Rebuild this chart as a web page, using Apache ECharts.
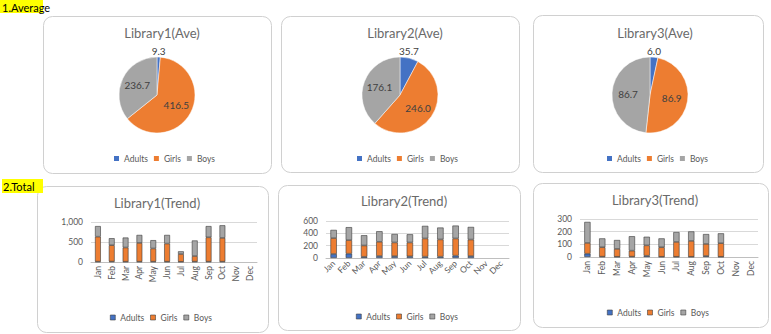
<!DOCTYPE html>
<html>
<head>
<meta charset="utf-8">
<script src="https://cdn.jsdelivr.net/npm/echarts@6/dist/echarts.min.js"></script>
<style>
  html, body { margin: 0; padding: 0; background: #fff; }
  #chart { width: 771px; height: 334px; }
</style>
</head>
<body>
<div id="chart"></div>
<script>
// Visitor counts per month for three libraries (Jan–Oct recorded).
const months = ['Jan', 'Feb', 'Mar', 'Apr', 'May', 'Jun', 'Jul', 'Aug', 'Sep', 'Oct', 'Nov', 'Dec'];
const groups = ['Adults', 'Girls', 'Boys'];

const lib1Adults = [10, 12, 8, 9, 10, 8, 6, 10, 10, 10];
const lib1Girls  = [623, 408, 354, 468, 328, 453, 193, 139, 607, 592];
const lib1Boys   = [265, 175, 249, 200, 208, 216, 68, 389, 281, 316];

const lib2Adults = [65, 70, 20, 32, 30, 27, 22, 22, 38, 31];
const lib2Girls  = [258, 220, 183, 231, 222, 225, 295, 279, 279, 268];
const lib2Boys   = [133, 210, 166, 171, 137, 133, 204, 193, 209, 205];

const lib3Adults = [26, 3, 2, 3, 10, 2, 2, 2, 8, 2];
const lib3Girls  = [85, 74, 62, 47, 82, 75, 117, 125, 95, 107];
const lib3Boys   = [166, 70, 70, 114, 68, 70, 78, 75, 78, 78];

const lib1Ticks = [0, 500, 1000];
const lib2Ticks = [0, 200, 400, 600];
const lib3Ticks = [0, 100, 200, 300];

const colors = { Adults: '#4472C4', Girls: '#ED7D31', Boys: '#A5A5A5' };
const FONT = 'Lato, "Open Sans", sans-serif';
const TXT = '#595959';
const TITLE = '#6a6a6a';

const libraries = [
  { name: 'Library1', adults: lib1Adults, girls: lib1Girls, boys: lib1Boys, ticks: lib1Ticks, rotate: 90 },
  { name: 'Library2', adults: lib2Adults, girls: lib2Girls, boys: lib2Boys, ticks: lib2Ticks, rotate: 45 },
  { name: 'Library3', adults: lib3Adults, girls: lib3Girls, boys: lib3Boys, ticks: lib3Ticks, rotate: 90 }
];

// Layout of the six framed panels
const piePanels = [
  { x: 43, y: 16, w: 228, h: 157, cx: 157, cy: 95, legendLeft: 109 },
  { x: 281, y: 16, w: 238, h: 156, cx: 400, cy: 95, legendLeft: 352 },
  { x: 533, y: 15, w: 230, h: 157, cx: 650, cy: 95, legendLeft: 602 }
];
const barPanels = [
  { x: 37, y: 186, w: 231, h: 146, cx: 152, titleY: 191, grid: { left: 91, top: 222, width: 166, height: 40 }, legendLeft: 105, legendTop: 308 },
  { x: 278, y: 185, w: 242, h: 145, cx: 399, titleY: 189, grid: { left: 326, top: 221, width: 183, height: 37 }, legendLeft: 351, legendTop: 307 },
  { x: 533, y: 183, w: 235, h: 144, cx: 650, titleY: 188, grid: { left: 580, top: 219, width: 178, height: 38 }, legendLeft: 602, legendTop: 303 }
];

const mean = arr => arr.reduce((a, b) => a + b, 0) / arr.length;

const option = {
  backgroundColor: '#fff',
  animation: false,
  textStyle: { fontFamily: FONT },
  title: [],
  legend: [],
  grid: [],
  xAxis: [],
  yAxis: [],
  series: [],
  graphic: []
};

// Section headings
option.graphic.push(
  { type: 'rect', shape: { x: 0, y: 0, width: 43, height: 13 }, style: { fill: '#FFFF00' }, z: 1 },
  { type: 'text', x: 2, y: 7, style: { text: '1.Average', fill: '#000', font: '11px ' + FONT, textVerticalAlign: 'middle' }, z: 2 },
  { type: 'rect', shape: { x: 2, y: 179, width: 41, height: 14 }, style: { fill: '#FFFF00' }, z: 1 },
  { type: 'text', x: 3, y: 186, style: { text: '2.Total', fill: '#000', font: '11px ' + FONT, textVerticalAlign: 'middle' }, z: 2 }
);

[...piePanels, ...barPanels].forEach(p => {
  option.graphic.push({
    type: 'rect', z: 0,
    shape: { x: p.x + 0.5, y: p.y + 0.5, width: p.w, height: p.h, r: 9 },
    style: { fill: '#fff', stroke: '#d0d0d0', lineWidth: 1 }
  });
});

const legendText = { fontFamily: FONT, fontSize: 8.5, color: TXT };

libraries.forEach((lib, i) => {
  const pp = piePanels[i];
  const bp = barPanels[i];

  // --- Average pie ---
  option.title.push({
    text: lib.name + '(Ave)', left: pp.cx, top: 21, textAlign: 'center',
    textStyle: { fontFamily: FONT, fontSize: 13, fontWeight: 'normal', color: TITLE }
  });
  option.legend.push({
    data: groups, left: pp.legendLeft, top: pp.cy + 54, itemWidth: 5, itemHeight: 5, itemGap: 6,
    icon: 'rect', itemStyle: { borderWidth: 0 }, textStyle: legendText
  });
  const avgs = [mean(lib.adults), mean(lib.girls), mean(lib.boys)];
  option.series.push({
    type: 'pie', center: [pp.cx, pp.cy], radius: 38, startAngle: 90, clockwise: true,
    avoidLabelOverlap: false,
    itemStyle: { borderColor: '#fff', borderWidth: 0.5 },
    label: {
      position: 'inside', fontFamily: FONT, fontSize: 10, color: '#404040',
      formatter: p => p.value.toFixed(1)
    },
    labelLine: { show: false, length: 3, length2: 0 },
    // centre the small outside label just above its slice
    labelLayout: p => p.dataIndex === 0
      ? { x: p.rect.x + p.rect.width / 2, y: p.rect.y - 6, align: 'center', verticalAlign: 'middle' }
      : {},
    data: groups.map((g, k) => ({
      name: g, value: avgs[k], itemStyle: { color: colors[g] },
      label: k === 0 ? { position: 'outside' } : undefined
    }))
  });

  // --- Monthly stacked bars ---
  option.title.push({
    text: lib.name + '(Trend)', left: bp.cx, top: bp.titleY, textAlign: 'center',
    textStyle: { fontFamily: FONT, fontSize: 13, fontWeight: 'normal', color: TITLE }
  });
  option.legend.push({
    data: groups, left: bp.legendLeft, top: bp.legendTop, itemWidth: 5, itemHeight: 5, itemGap: 6,
    icon: 'rect', itemStyle: { borderColor: '#404040', borderWidth: 0.6 }, textStyle: legendText
  });
  option.grid.push(bp.grid);
  option.xAxis.push({
    type: 'category', gridIndex: i, data: months,
    axisLine: { lineStyle: { color: '#bfbfbf' } },
    axisTick: { show: false },
    axisLabel: { interval: 0, rotate: lib.rotate, margin: 4, fontSize: 8.5, color: TXT, fontFamily: FONT }
  });
  const t = lib.ticks;
  option.yAxis.push({
    type: 'value', gridIndex: i, min: t[0], max: t[t.length - 1], interval: t[1] - t[0],
    axisLine: { show: false }, axisTick: { show: false },
    splitLine: { lineStyle: { color: '#d9d9d9' } },
    axisLabel: { margin: 8, fontSize: 8.5, color: TXT, fontFamily: FONT,
      formatter: v => v.toLocaleString('en-US') }
  });
  [lib.adults, lib.girls, lib.boys].forEach((vals, k) => {
    option.series.push({
      type: 'bar', name: groups[k], xAxisIndex: i, yAxisIndex: i, stack: lib.name,
      barWidth: '42%',
      itemStyle: { color: colors[groups[k]], borderColor: '#3a3a3a', borderWidth: 0.6 },
      data: vals
    });
  });
});

const chart = echarts.init(document.getElementById('chart'), null, { renderer: 'svg' });
chart.setOption(option);
</script>
</body>
</html>
